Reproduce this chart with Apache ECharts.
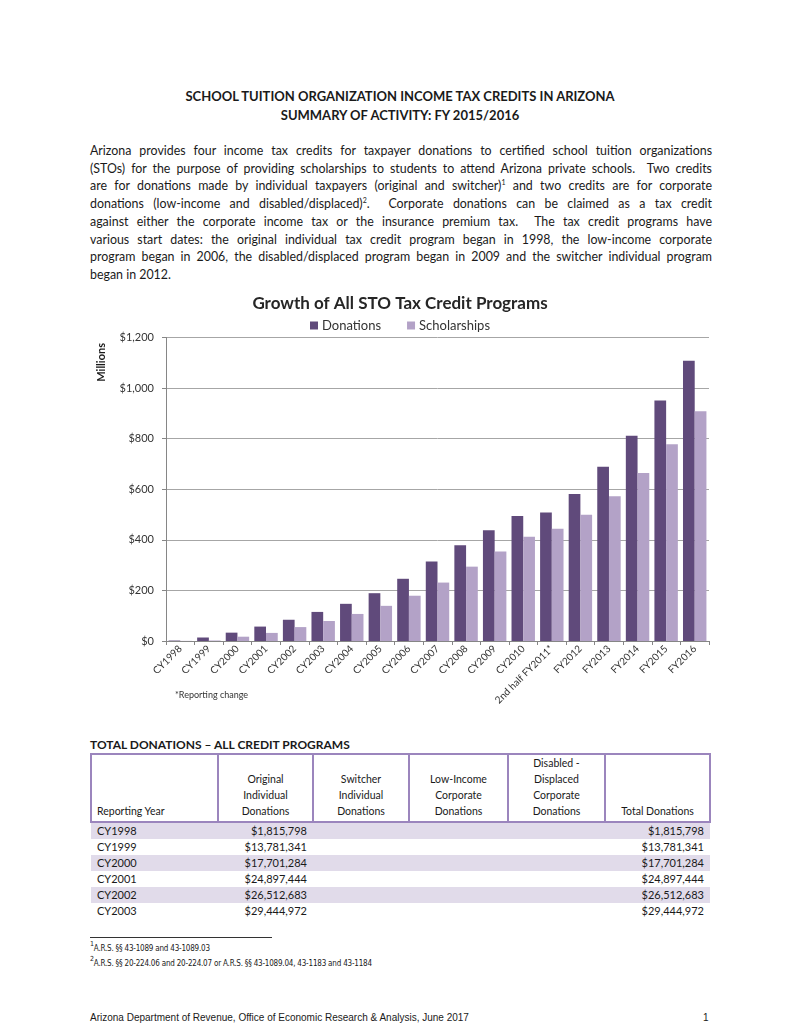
<!DOCTYPE html>
<html>
<head>
<meta charset="utf-8">
<script src="https://cdn.jsdelivr.net/npm/echarts@6/dist/echarts.min.js"></script>
<style>
  html, body { margin: 0; padding: 0; background: #fff; }
  #page { position: relative; width: 800px; height: 1035px; background: #fff; overflow: hidden; font-family: Lato, "Noto Sans", sans-serif; color: #1a1a1a; }
  .abs { position: absolute; }
  .title { left: 0; width: 800px; text-align: center; font-weight: bold; font-size: 13px; }
  .pline { left: 90px; width: 622px; font-size: 12.4px; height: 17px; line-height: 17px; white-space: nowrap; text-align: justify; text-align-last: justify; }
  .pline.last { text-align-last: left; }
  sup { font-size: 7px; vertical-align: 5px; line-height: 0; }
  #chart { left: 85px; top: 285px; width: 630px; height: 430px; }
  #tblTitle { left: 90px; top: 737px; font-weight: bold; font-size: 12px; }
  table { position: absolute; left: 90px; top: 753px; border-collapse: collapse; font-size: 10.5px; }
  th { border: 2px solid #9b85bd; font-weight: normal; vertical-align: bottom; text-align: center; padding: 0 4px 2px 4px; line-height: 16px; height: 62px; }
  th.first { text-align: left; padding-left: 5px; }
  td { height: 16px; line-height: 16px; padding: 0 6px; font-size: 11px; }
  td.num { text-align: right; }
  tr.shade td { background: #e1dbea; }
  #fnline { left: 90px; top: 937px; width: 182px; height: 1px; background: #333; }
  .fn { left: 90px; font-size: 8px; font-family: "DejaVu Sans Condensed", "Liberation Sans Narrow", sans-serif; letter-spacing: -0.2px; }
  .footer { top: 1012px; font-size: 10px; font-family: "Liberation Sans", Arial, sans-serif; }
</style>
</head>
<body>
<div id="page">
  <div class="abs title" style="top:88px;">SCHOOL TUITION ORGANIZATION INCOME TAX CREDITS IN ARIZONA</div>
  <div class="abs title" style="top:107px;">SUMMARY OF ACTIVITY: FY 2015/2016</div>
  <div id="para"></div>
  <div id="chart" class="abs"></div>
  <div id="tblTitle" class="abs">TOTAL DONATIONS – ALL CREDIT PROGRAMS</div>
  <div id="tblWrap"></div>
  <div id="fnline" class="abs"></div>
  <div class="abs fn" style="top:944px;"><sup>1</sup>A.R.S. §§ 43-1089 and 43-1089.03</div>
  <div class="abs fn" style="top:959px;"><sup>2</sup>A.R.S. §§ 20-224.06 and 20-224.07 or A.R.S. §§ 43-1089.04, 43-1183 and 43-1184</div>
  <div class="abs footer" style="left:90px;">Arizona Department of Revenue, Office of Economic Research &amp; Analysis, June 2017</div>
  <div class="abs footer" style="left:703px;">1</div>
</div>
<script>
// ---- Chart data (millions of dollars) ----
const categories = ['CY1998','CY1999','CY2000','CY2001','CY2002','CY2003','CY2004','CY2005','CY2006','CY2007','CY2008','CY2009','CY2010','2nd half FY2011*','FY2012','FY2013','FY2014','FY2015','FY2016'];
const donations = [1.8, 13.8, 33, 57, 84, 115, 147, 189, 246, 314, 379, 438, 494, 508, 581, 689, 812, 951, 1108];
const scholarships = [0.5, 2, 17, 32, 55, 79, 107, 139, 179, 231, 294, 354, 412, 444, 499, 572, 664, 778, 908];
const yTicks = [0, 200, 400, 600, 800, 1000, 1200];

// ---- Table data ----
const tableHeaders = ['Reporting Year', 'Original<br>Individual<br>Donations', 'Switcher<br>Individual<br>Donations', 'Low-Income<br>Corporate<br>Donations', 'Disabled -<br>Displaced<br>Corporate<br>Donations', 'Total Donations'];
const tableYears = ['CY1998', 'CY1999', 'CY2000', 'CY2001', 'CY2002', 'CY2003'];
const tableOriginal = ['$1,815,798', '$13,781,341', '$17,701,284', '$24,897,444', '$26,512,683', '$29,444,972'];
const tableTotal = ['$1,815,798', '$13,781,341', '$17,701,284', '$24,897,444', '$26,512,683', '$29,444,972'];

// ---- Paragraph lines ----
const paraLines = [
  'Arizona provides four income tax credits for taxpayer donations to certified school tuition organizations',
  '(STOs) for the purpose of providing scholarships to students to attend Arizona private schools.&nbsp; Two credits',
  'are for donations made by individual taxpayers (original and switcher)<sup>1</sup> and two credits are for corporate',
  'donations (low-income and disabled/displaced)<sup>2</sup>.&nbsp; Corporate donations can be claimed as a tax credit',
  'against either the corporate income tax or the insurance premium tax.&nbsp; The tax credit programs have',
  'various start dates: the original individual tax credit program began in 1998, the low-income corporate',
  'program began in 2006, the disabled/displaced program began in 2009 and the switcher individual program',
  'began in 2012.'
];

// paragraph
const para = document.getElementById('para');
paraLines.forEach((t, i) => {
  const d = document.createElement('div');
  d.className = 'abs pline' + (i === paraLines.length - 1 ? ' last' : '');
  d.style.top = (142 + i * 17.7) + 'px';
  d.innerHTML = t;
  para.appendChild(d);
});

// table
const colW = [126, 95, 96, 99, 97, 105];
let html = '<table><tr>';
tableHeaders.forEach((h, i) => {
  html += '<th class="' + (i === 0 ? 'first' : '') + '" style="width:' + (colW[i] - 10) + 'px">' + h + '</th>';
});
html += '</tr>';
tableYears.forEach((y, i) => {
  html += '<tr class="' + (i % 2 === 0 ? 'shade' : '') + '"><td>' + y + '</td><td class="num">' + tableOriginal[i] +
    '</td><td></td><td></td><td></td><td class="num">' + tableTotal[i] + '</td></tr>';
});
html += '</table>';
document.getElementById('tblWrap').innerHTML = html;

// chart
const chart = echarts.init(document.getElementById('chart'));
const fontFam = 'Lato, "Noto Sans", sans-serif';
chart.setOption({
  animation: false,
  textStyle: { fontFamily: fontFam },
  title: {
    text: 'Growth of All STO Tax Credit Programs',
    left: 'center', top: 5,
    textStyle: { fontSize: 17, fontWeight: 'bold', color: '#262626', fontFamily: fontFam }
  },
  legend: {
    top: 29, left: 'center',
    itemWidth: 8, itemHeight: 8, itemGap: 26,
    icon: 'rect',
    textStyle: { fontSize: 13, color: '#333', fontFamily: fontFam, padding: [0, 0, 0, -1] },
    data: ['Donations', 'Scholarships']
  },
  grid: { left: 81, right: 6, top: 52.5, bottom: 74, containLabel: false },
  xAxis: {
    type: 'category',
    data: categories,
    axisLine: { lineStyle: { color: '#868686' } },
    axisTick: { show: true, length: 4, lineStyle: { color: '#868686' } },
    axisLabel: { rotate: 45, fontSize: 10, color: '#333', margin: 6, interval: 0, fontFamily: fontFam }
  },
  yAxis: {
    type: 'value',
    min: 0, max: 1200, interval: 200,
    axisLine: { show: true, lineStyle: { color: '#868686' } },
    axisTick: { show: true, length: 4, lineStyle: { color: '#868686' } },
    splitLine: { lineStyle: { color: '#a6a6a6', width: 1 } },
    axisLabel: {
      fontSize: 11, color: '#333', margin: 12, fontFamily: fontFam,
      formatter: v => yTicks.indexOf(v) >= 0 ? '$' + v.toLocaleString('en-US') : ''
    }
  },
  graphic: [
    { type: 'text', left: 11, top: 58, rotation: Math.PI / 2,
      style: { text: 'Millions', fontSize: 11, fontWeight: 'bold', fill: '#1a1a1a', fontFamily: fontFam } },
    { type: 'text', left: 90, top: 406,
      style: { text: '*Reporting change', fontSize: 9, fill: '#333', fontFamily: fontFam } }
  ],
  series: [
    { name: 'Donations', type: 'bar', data: donations, barGap: '0%', barCategoryGap: '18%',
      itemStyle: { color: '#604a7b' } },
    { name: 'Scholarships', type: 'bar', data: scholarships, barGap: '0%', barCategoryGap: '18%',
      itemStyle: { color: '#b3a2c7' } }
  ]
});
</script>
</body>
</html>
